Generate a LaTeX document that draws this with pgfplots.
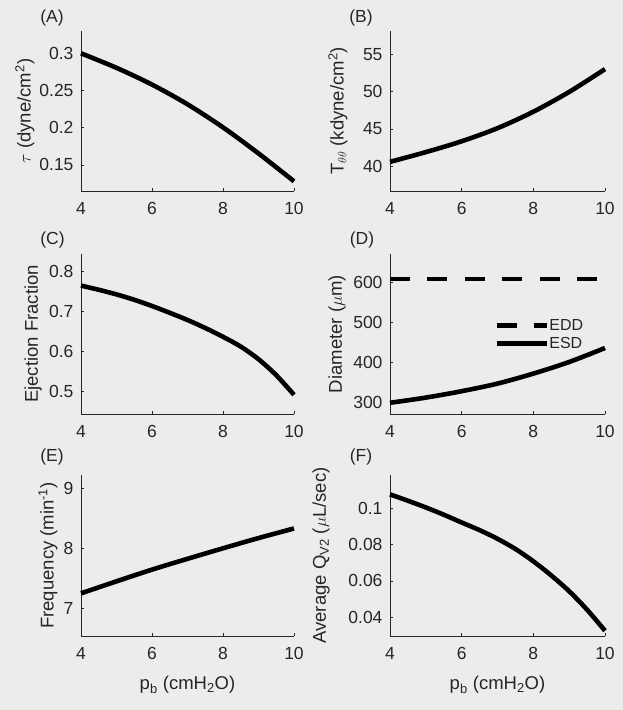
\documentclass[border=0pt]{standalone}
\usepackage{fontspec}
\setmainfont{Liberation Sans}
\usepackage{pgfplots}
\pgfplotsset{compat=1.18}
\definecolor{bg}{RGB}{236,236,236}
\definecolor{axgray}{RGB}{38,38,38}
\pgfplotsset{
  panel/.style={
    scale only axis, anchor=south west,
    xmin=4, xmax=10, xtick={4,6,8,10}, xticklabels={4,6,8,10},
    axis x line*=bottom, axis y line*=left,
    axis line style={-, draw=axgray, line width=0.7pt},
    tick align=inside, major tick length=3pt,
    tick style={draw=axgray, line width=0.6pt},
    ticklabel style={font=\fontsize{17.5}{20}\selectfont, text=axgray},
    xticklabel style={yshift=-8pt},
    yticklabel style={xshift=-4pt},
    label style={font=\fontsize{18.5}{22}\selectfont, text=axgray},
    ylabel style={anchor=center},
    scaled ticks=false, clip=false,
    every axis plot/.append style={line width=4.6pt, black, line join=round},
  }
}
\tikzset{lab/.style={font=\fontsize{17.5}{20}\selectfont, text=axgray}}
\begin{document}
\begin{tikzpicture}
\path[fill=bg] (0,0) rectangle (623pt,710pt);
\useasboundingbox (0,0) rectangle (623pt,710pt);

% (A)
\begin{axis}[panel, at={(81pt,519pt)}, width=213pt, height=160pt,
  ymin=0.115, ymax=0.33, ytick={0.15,0.2,0.25,0.3}, yticklabels={0.15,0.2,0.25,0.3},
  ylabel={$\tau$ (dyne/cm\textsuperscript{2})},
  ylabel style={at={(axis description cs:-0.263,0.5)}}]
\addplot[smooth] coordinates {(4,0.300) (5,0.2805) (6,0.258) (7,0.2315) (8,0.2005) (9,0.1655) (10,0.128)};
\end{axis}

% (B)
\begin{axis}[panel, at={(390pt,519pt)}, width=215pt, height=160pt,
  ymin=36.7, ymax=58.1, ytick={40,45,50,55}, yticklabels={40,45,50,55},
  ylabel={T\textsubscript{$\theta\theta$} (kdyne/cm\textsuperscript{2})},
  ylabel style={at={(axis description cs:-0.242,0.5)}}]
\addplot[smooth] coordinates {(4,40.6) (5,41.9) (6,43.35) (7,45.1) (8,47.3) (9,49.95) (10,53.0)};
\end{axis}

% (C)
\begin{axis}[panel, at={(81pt,296pt)}, width=213pt, height=160pt,
  ymin=0.444, ymax=0.844, ytick={0.5,0.6,0.7,0.8}, yticklabels={0.5,0.6,0.7,0.8},
  ylabel={Ejection Fraction},
  ylabel style={at={(axis description cs:-0.225,0.5)}}]
\addplot[smooth] coordinates {(4,0.765) (4.5,0.7545) (5,0.743) (5.5,0.7295) (6,0.714) (6.5,0.697) (7,0.679) (7.5,0.659) (8,0.637) (8.5,0.6125) (9,0.581) (9.5,0.541) (10,0.492)};
\end{axis}

% (D)
\begin{axis}[panel, at={(390pt,296pt)}, width=215pt, height=160pt,
  ymin=272, ymax=672, ytick={300,400,500,600}, yticklabels={300,400,500,600},
  ylabel={Diameter ($\mu$m)},
  ylabel style={at={(axis description cs:-0.2465,0.5)}},
  legend style={at={(axis description cs:0.484,0.497)}, anchor=west, draw=none, fill=none,
    font=\fontsize{16}{18}\selectfont, text=axgray, inner sep=0pt, row sep=4pt,
    nodes={inner sep=0.5pt}},
  legend cell align=left,
  legend image code/.code={\draw[#1] (0pt,0pt) -- (50pt,0pt);}]
\addplot[dash pattern=on 20pt off 17.4pt] coordinates {(4,609) (10,609)};
\addlegendentry{EDD}
\addplot[smooth] coordinates {(4,300) (5,313) (6,329) (7,348) (8,373) (9,402) (10,437)};
\addlegendentry{ESD}
\end{axis}

% (E)
\begin{axis}[panel, at={(81pt,74pt)}, width=213pt, height=161pt,
  ymin=6.54, ymax=9.22, ytick={7,8,9}, yticklabels={7,8,9},
  ylabel={Frequency (min\textsuperscript{-1})},
  ylabel style={at={(axis description cs:-0.155,0.5)}},
  xlabel={p\textsubscript{b} (cmH\textsubscript{2}O)},
  xlabel style={at={(axis description cs:0.5,0)}, anchor=center, yshift=-49pt}]
\addplot[smooth] coordinates {(4,7.25) (5,7.45) (6,7.645) (7,7.825) (8,8.0) (9,8.17) (10,8.33)};
\end{axis}

% (F)
\begin{axis}[panel, at={(390pt,74pt)}, width=215pt, height=161pt,
  ymin=0.0296, ymax=0.1184, ytick={0.04,0.06,0.08,0.1}, yticklabels={0.04,0.06,0.08,0.1},
  ylabel={Average Q\textsubscript{V2} ($\mu$L/sec)},
  ylabel style={at={(axis description cs:-0.321,0.5)}},
  xlabel={p\textsubscript{b} (cmH\textsubscript{2}O)},
  xlabel style={at={(axis description cs:0.5,0)}, anchor=center, yshift=-49pt}]
\addplot[smooth] coordinates {(4,0.1077) (4.5,0.1042) (5,0.1005) (5.5,0.0965) (6,0.0922) (6.5,0.0880) (7,0.0832) (7.5,0.0776) (8,0.0708) (8.5,0.0630) (9,0.0543) (9.5,0.0441) (10,0.0325)};
\end{axis}

\node[lab] at (52pt,692.5pt) {(A)};
\node[lab] at (361pt,692.5pt) {(B)};
\node[lab] at (52.5pt,470pt) {(C)};
\node[lab] at (362pt,470pt) {(D)};
\node[lab] at (52pt,253.5pt) {(E)};
\node[lab] at (361pt,253.5pt) {(F)};
\end{tikzpicture}
\end{document}
